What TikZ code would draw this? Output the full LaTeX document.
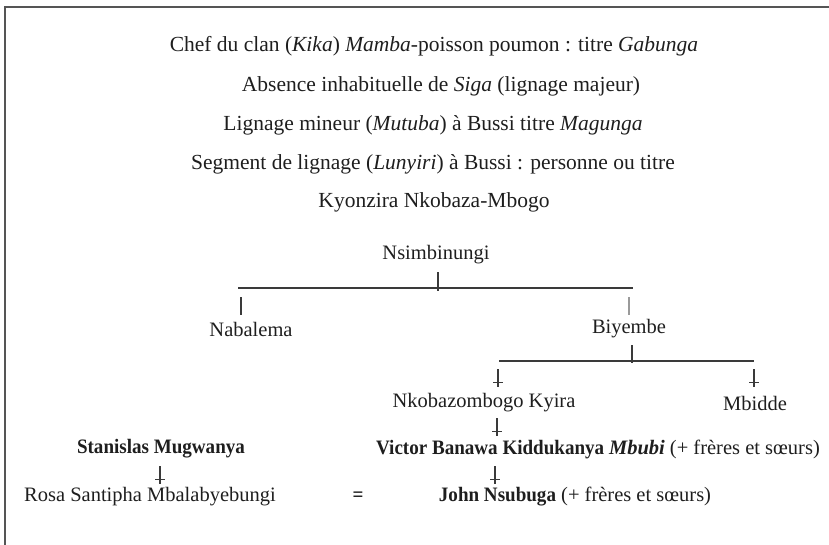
\documentclass[tikz,border=0pt]{standalone}
\usepackage{fontspec}
\setmainfont{Liberation Serif}[BoldFeatures={FakeStretch=0.93}]
\definecolor{ink}{HTML}{1E1E1E}
\definecolor{lncol}{HTML}{3A3A3A}
\definecolor{framecol}{HTML}{555555}
\definecolor{lightln}{HTML}{9A9A9A}
\tikzset{
  txt/.style={inner sep=0pt, text=ink, font=\fontsize{20.5}{24}\selectfont},
  headtxt/.style={txt, font=\fontsize{21.5}{25}\selectfont},
  ln/.style={draw=lncol, line width=1.1pt},
  lightline/.style={draw=lightln, line width=1.1pt},
  frameline/.style={draw=framecol, line width=2pt},
  darrow/.pic={\draw[ln] (0,0) -- (0,18); \draw[ln] (-5,13.5) -- (5,13.5);}
}
\begin{document}
\begin{tikzpicture}[x=1pt,y=-1pt]
\useasboundingbox (0,0) rectangle (829,545);
\draw[frameline] (5,545) -- (5,7) -- (829,7);

% heading lines
\node[headtxt] (t1) at (434,46) {Chef du clan (\textit{Kika}) \textit{Mamba}-poisson poumon : titre \textit{Gabunga}};
\node[headtxt] (t2) at (441,86) {Absence inhabituelle de \textit{Siga} (lignage majeur)};
\node[headtxt] (t3) at (433,125) {Lignage mineur (\textit{Mutuba}) à Bussi titre \textit{Magunga}};
\node[headtxt] (t4) at (433,164) {Segment de lignage (\textit{Lunyiri}) à Bussi : personne ou titre};
\node[headtxt] (t5) at (434,202) {Kyonzira Nkobaza-Mbogo};

% tree
\node[txt] (ns) at (436,255) {Nsimbinungi};
\node[txt] (nab) at (251,329) {Nabalema};
\node[txt] (biy) at (629,329) {Biyembe};
\node[txt] (nk) at (484,403) {Nkobazombogo Kyira};
\node[txt] (mb) at (755,403) {Mbidde};
\node[txt] (st) at (161,449) {\textbf{Stanislas Mugwanya}};
\node[txt] (vi) at (598,449) {\textbf{Victor Banawa Kiddukanya \textit{Mbubi}} (+ frères et sœurs)};
\node[txt] (ro) at (150,497) {Rosa Santipha Mbalabyebungi};
\node[txt] (eq) at (358,497) {\textbf{=}};
\node[txt] (jo) at (575,497) {\textbf{John Nsubuga} (+ frères et sœurs)};

% connector coordinates
\coordinate (h1l) at (238,288);
\coordinate (h1r) at (633,288);
\coordinate (nsa) at (438,272);
\coordinate (nsb) at (438,291);
\coordinate (naba) at (241,297);
\coordinate (nabb) at (241,315);
\coordinate (biya) at (629,297);
\coordinate (biyb) at (629,315);
\coordinate (biyc) at (632,345);
\coordinate (biyd) at (632,363);
\coordinate (h2l) at (499,361);
\coordinate (h2r) at (754,361);

\draw[ln] (nsa) -- (nsb);
\draw[ln] (h1l) -- (h1r);
\draw[ln] (naba) -- (nabb);
\draw[lightline] (biya) -- (biyb);
\draw[ln] (biyc) -- (biyd);
\draw[ln] (h2l) -- (h2r);

\pic at (498,369) {darrow};
\pic at (754,369) {darrow};
\pic at (497,418) {darrow};
\pic at (495,466) {darrow};
\pic at (160,466) {darrow};
\end{tikzpicture}
\end{document}
